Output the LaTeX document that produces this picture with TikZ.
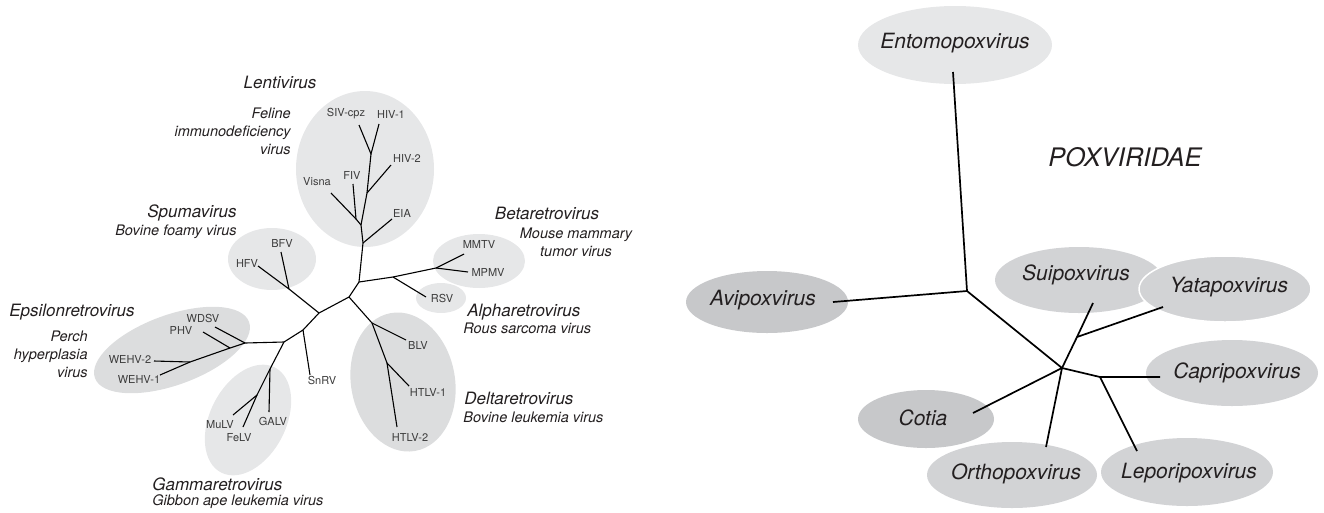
\documentclass[tikz,border=0pt]{standalone}
\usepackage{fontspec}
\setmainfont{TeX Gyre Heros}
\usetikzlibrary{shapes.geometric}
\tikzset{every picture/.style={line width=0.75pt}}
\definecolor{labgray}{HTML}{3C3C3C}
\definecolor{txtdark}{HTML}{231F20}
\definecolor{cladeA}{HTML}{E6E7E8}
\definecolor{cladeB}{HTML}{DCDDDE}
\definecolor{poxA}{HTML}{C7C8CA}
\definecolor{poxB}{HTML}{D2D3D5}
\definecolor{poxC}{HTML}{E6E7E8}
\tikzset{
  clade/.style={ellipse, fill=cladeA, inner sep=0pt},
  leaf/.style={font=\fontsize{11}{13}\selectfont, text=labgray, inner sep=0pt},
  genus/.style={font=\fontsize{17}{20}\selectfont\itshape, text=txtdark, inner sep=0pt},
  species/.style={font=\fontsize{14.5}{18}\selectfont\itshape, text=txtdark, inner sep=0pt},
  branch/.style={line width=1.1pt, line join=round},
  poxname/.style={font=\fontsize{21}{24}\selectfont\itshape, text=txtdark, inner sep=0pt},
  poxbranch/.style={line width=1.7pt, line join=round}
}

\begin{document}
\begin{tikzpicture}[x=1pt, y=-1pt]
    \useasboundingbox (0,0) rectangle (1324,512);

    % 类群椭圆（逆转录病毒）
    \node[clade, minimum width=138, minimum height=156] (lentiE) at (365,169) {};
    \node[clade, minimum width=88, minimum height=62] (spumaE) at (272,259) {};
    \node[clade, minimum width=92, minimum height=54] (betaE) at (479,261) {};
    \node[clade, minimum width=50, minimum height=30] (alphaE) at (441,298) {};
    \node[clade, fill=cladeB, minimum width=104, minimum height=140, rotate=10] (deltaE) at (403,382) {};
    \node[clade, minimum width=76, minimum height=118, rotate=-27] (gammaE) at (248,420) {};
    \node[clade, fill=cladeB, minimum width=164, minimum height=70, rotate=20] (epsE) at (172,350) {};

    % 分支点
    \coordinate (nHiv) at (371,154);
    \coordinate (nHivb) at (367,193);
    \coordinate (nVf) at (356,219);
    \coordinate (nVft) at (361,225);
    \coordinate (nEia) at (363,243);
    \coordinate (nRoot) at (359,282);
    \coordinate (nAb) at (393,277);
    \coordinate (nBeta) at (436,268);
    \coordinate (nC) at (349,297);
    \coordinate (nDelta) at (372,323);
    \coordinate (nHtlv) at (387,363);
    \coordinate (nD) at (319,313);
    \coordinate (nSpuma) at (289,289);
    \coordinate (nSnrv) at (303,330);
    \coordinate (nE) at (284,342);
    \coordinate (nGalv) at (270,369);
    \coordinate (nMf) at (257,395);
    \coordinate (nEps) at (245,343);
    \coordinate (nPhv) at (230,348);
    \coordinate (nWehv) at (190,362);

    % 末端
    \coordinate (tSiv) at (359,125);
    \coordinate (tHiva) at (379,124);
    \coordinate (tHivb) at (391,165);
    \coordinate (tFiv) at (353,184);
    \coordinate (tVisna) at (331,193);
    \coordinate (tEia) at (392,219);
    \coordinate (tMmtv) at (464,254);
    \coordinate (tMpmv) at (468,272);
    \coordinate (tRsv) at (426,297);
    \coordinate (tBlv) at (406,340);
    \coordinate (tHtlva) at (409,386);
    \coordinate (tHtlvb) at (397,427);
    \coordinate (tBfv) at (281,252);
    \coordinate (tHfv) at (258,266);
    \coordinate (tSnrv) at (310,375);
    \coordinate (tGalv) at (269,412);
    \coordinate (tMulv) at (233,415);
    \coordinate (tFelv) at (243,427);
    \coordinate (tWdsv) at (215,327);
    \coordinate (tPhv) at (203,332);
    \coordinate (tWehvb) at (154,361);
    \coordinate (tWehva) at (160,375);

    % 绘制树
    \draw[branch] (tSiv) -- (nHiv) -- (tHiva);
    \draw[branch] (nHiv) -- (nHivb) -- (nVft) -- (nEia) -- (nRoot);
    \draw[branch] (nHivb) -- (tHivb);
    \draw[branch] (tFiv) -- (nVf) -- (nVft);
    \draw[branch] (tVisna) -- (nVf);
    \draw[branch] (nEia) -- (tEia);
    \draw[branch] (nRoot) -- (nAb) -- (nBeta) -- (tMmtv);
    \draw[branch] (nBeta) -- (tMpmv);
    \draw[branch] (nAb) -- (tRsv);
    \draw[branch] (nRoot) -- (nC) -- (nDelta) -- (nHtlv) -- (tHtlvb);
    \draw[branch] (nDelta) -- (tBlv);
    \draw[branch] (nHtlv) -- (tHtlva);
    \draw[branch] (nC) -- (nD) -- (nSpuma) -- (tBfv);
    \draw[branch] (nSpuma) -- (tHfv);
    \draw[branch] (nD) -- (nSnrv) -- (nE) -- (nEps) -- (nPhv) -- (nWehv) -- (tWehvb);
    \draw[branch] (nWehv) -- (tWehva);
    \draw[branch] (nPhv) -- (tPhv);
    \draw[branch] (nEps) -- (tWdsv);
    \draw[branch] (nSnrv) -- (tSnrv);
    \draw[branch] (nE) -- (nGalv) -- (tGalv);
    \draw[branch] (nGalv) -- (nMf) -- (tMulv);
    \draw[branch] (nMf) -- (tFelv);

    % 标注病毒
    \node[leaf] (lSiv) at (346,114) {SIV-cpz};
    \node[leaf] (lHiva) at (391,114) {HIV-1};
    \node[leaf] (lHivb) at (407,158) {HIV-2};
    \node[leaf] (lFiv) at (352,175) {FIV};
    \node[leaf] (lVisna) at (317,182) {Visna};
    \node[leaf] (lEia) at (402,213) {EIA};
    \node[leaf] (lMmtv) at (479,244) {MMTV};
    \node[leaf] (lMpmv) at (488,272) {MPMV};
    \node[leaf] (lRsv) at (442,298) {RSV};
    \node[leaf] (lBlv) at (418,345) {BLV};
    \node[leaf] (lHtlva) at (428,392) {HTLV-1};
    \node[leaf] (lHtlvb) at (410,437) {HTLV-2};
    \node[leaf] (lBfv) at (282,243) {BFV};
    \node[leaf] (lHfv) at (247,263) {HFV};
    \node[leaf] (lSnrv) at (322,380) {SnRV};
    \node[leaf] (lGalv) at (273,421) {GALV};
    \node[leaf] (lMulv) at (220,425) {MuLV};
    \node[leaf] (lFelv) at (239,438) {FeLV};
    \node[leaf] (lWdsv) at (203,318) {WDSV};
    \node[leaf] (lPhv) at (181,330) {PHV};
    \node[leaf] (lWehvb) at (130,359) {WEHV-2};
    \node[leaf] (lWehva) at (139,379) {WEHV-1};

    % 标注属
    \node[genus] (gLenti) at (280,82) {Lentivirus};
    \node[species, anchor=east, align=right] (sLenti) at (291,131) {Feline\\immunodeficiency\\virus};
    \node[genus, anchor=east] (gSpuma) at (237,213) {Spumavirus};
    \node[species, anchor=east] (sSpuma) at (237,232) {Bovine foamy virus};
    \node[genus] (gBeta) at (547,213) {Betaretrovirus};
    \node[species, align=center] (sBeta) at (576,242) {Mouse mammary\\tumor virus};
    \node[genus, anchor=west] (gAlpha) at (467,312) {Alpharetrovirus};
    \node[species, anchor=west] (sAlpha) at (463,328) {Rous sarcoma virus};
    \node[genus, anchor=west] (gDelta) at (464,398) {Deltaretrovirus};
    \node[species, anchor=west] (sDelta) at (463,417) {Bovine leukemia virus};
    \node[genus, anchor=west] (gGamma) at (152,484) {Gammaretrovirus};
    \node[species, anchor=west] (sGamma) at (152,502) {Gibbon ape leukemia virus};
    \node[genus, anchor=west] (gEps) at (9,312) {Epsilonretrovirus};
    \node[species, anchor=east, align=right] (sEps) at (88,354) {Perch\\hyperplasia\\virus};

    % 痘病毒科椭圆
    \node[clade, fill=poxC, minimum width=194, minimum height=78] (entoE) at (955,45) {};
    \node[clade, fill=poxA, minimum width=162, minimum height=62] (aviE) at (767,302) {};
    \node[clade, fill=poxA, minimum width=136, minimum height=58] (cotiaE) at (926,419) {};
    \node[clade, fill=poxB, minimum width=170, minimum height=66] (orthoE) at (1012,475) {};
    \node[clade, fill=poxB, minimum width=172, minimum height=68] (leporiE) at (1187,472) {};
    \node[clade, fill=poxB, minimum width=172, minimum height=66] (capriE) at (1232,373) {};
    \node[clade, fill=poxB, minimum width=168, minimum height=66] (suiE) at (1079,280) {};
    \node[clade, fill=poxB, draw=white, line width=1.5pt, minimum width=172, minimum height=66] (yataE) at (1225,289) {};

    % 痘病毒树
    \coordinate (pNa) at (967,291);
    \coordinate (pNb) at (1062,368);
    \coordinate (pNc) at (1077,337);
    \coordinate (pNd) at (1100,377);
    \coordinate (pEnto) at (953,72);
    \coordinate (pAvi) at (833,302);
    \coordinate (pCotia) at (973,413);
    \coordinate (pOrtho) at (1046,447);
    \coordinate (pSui) at (1093,303);
    \coordinate (pYata) at (1163,307);
    \coordinate (pCapri) at (1160,377);
    \coordinate (pLepori) at (1137,451);
    \draw[poxbranch] (pEnto) -- (pNa) -- (pNb) -- (pCotia);
    \draw[poxbranch] (pNa) -- (pAvi);
    \draw[poxbranch] (pNb) -- (pOrtho);
    \draw[poxbranch] (pNb) -- (pNc) -- (pSui);
    \draw[poxbranch] (pNc) -- (pYata);
    \draw[poxbranch] (pNb) -- (pNd) -- (pCapri);
    \draw[poxbranch] (pNd) -- (pLepori);

    % 标注痘病毒属
    \node[poxname] (ento) at (955,43) {Entomopoxvirus};
    \node[poxname] (avi) at (763,300) {Avipoxvirus};
    \node[poxname] (cotia) at (923,418) {Cotia};
    \node[poxname] (ortho) at (1016,474) {Orthopoxvirus};
    \node[poxname] (lepori) at (1189,473) {Leporipoxvirus};
    \node[poxname] (capri) at (1237,373) {Capripoxvirus};
    \node[poxname] (sui) at (1076,275) {Suipoxvirus};
    \node[poxname] (yata) at (1229,287) {Yatapoxvirus};
    \node[font=\fontsize{25.5}{28}\selectfont\itshape, text=txtdark] (poxTitle) at (1125,157) {POXVIRIDAE};
\end{tikzpicture}
\end{document}
